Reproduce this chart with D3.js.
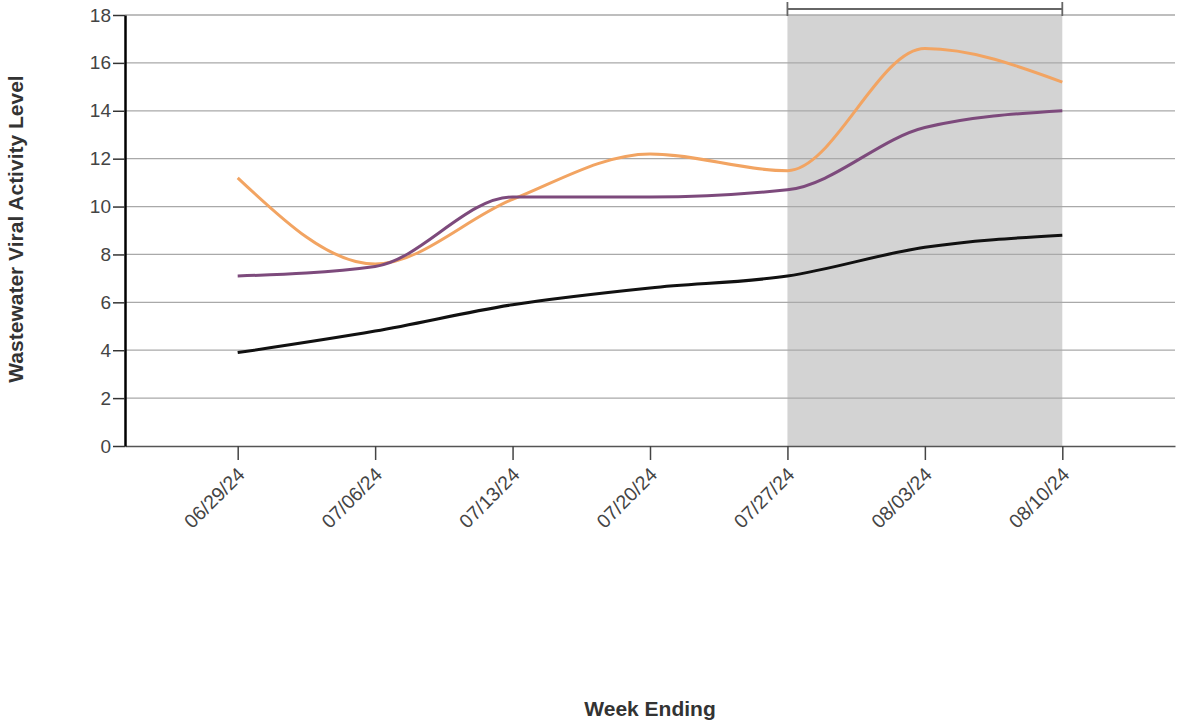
<!DOCTYPE html>
<html>
<head>
<meta charset="utf-8">
<script src="https://cdn.jsdelivr.net/npm/d3@7"></script>
<style>
  body { margin: 0; background: #fff; font-family: "Liberation Sans", Arial, sans-serif; }
</style>
</head>
<body>
<div class="canvas"></div>
<script>
// data
const weeks = ['06/29/24', '07/06/24', '07/13/24', '07/20/24', '07/27/24', '08/03/24', '08/10/24'];
const orangeVals = [11.2, 7.6, 10.3, 12.2, 11.5, 16.6, 15.2];
const purpleVals = [7.1, 7.5, 10.4, 10.4, 10.7, 13.3, 14.0];
const blackVals = [3.9, 4.8, 5.9, 6.6, 7.1, 8.3, 8.8];
const yTicks = [0, 2, 4, 6, 8, 10, 12, 14, 16, 18];
const shadeStart = '07/27/24';
const shadeEnd = '08/10/24';

const width = 1178, height = 721;
const margin = {top: 15, right: 3, bottom: 275, left: 125};
const graphWidth = width - margin.left - margin.right;
const graphHeight = height - margin.top - margin.bottom;

const svg = d3.select('.canvas')
    .append('svg')
        .attr('width', width)
        .attr('height', height);

const graph = svg.append('g')
    .attr('transform', `translate(${margin.left},${margin.top})`);

// scales
const x = d3.scalePoint()
    .domain(weeks)
    .range([0, graphWidth])
    .padding(0.82);

const y = d3.scaleLinear()
    .domain([0, 18])
    .range([graphHeight, 0]);

// shaded recent period
graph.append('rect')
    .attr('x', x(shadeStart))
    .attr('y', y(18))
    .attr('width', x(shadeEnd) - x(shadeStart))
    .attr('height', y(0) - y(18))
    .attr('fill', '#d3d3d3');

// gridlines
graph.selectAll('line.grid').data(yTicks.filter(d => d > 0))
    .enter().append('line')
        .attr('class', 'grid')
        .attr('x1', 0)
        .attr('x2', graphWidth)
        .attr('y1', d => y(d))
        .attr('y2', d => y(d))
        .attr('stroke', '#a9a9a9')
        .attr('stroke-width', 1.3);

// bracket above shaded area
const bracket = graph.append('g').attr('stroke', '#666').attr('stroke-width', 1.8);
bracket.append('line')
    .attr('x1', x(shadeStart)).attr('x2', x(shadeEnd))
    .attr('y1', -6).attr('y2', -6);
bracket.selectAll('line.end').data([shadeStart, shadeEnd])
    .enter().append('line')
        .attr('class', 'end')
        .attr('x1', d => x(d)).attr('x2', d => x(d))
        .attr('y1', -13).attr('y2', 1);

// x axis
const xAxis = graph.append('g')
    .attr('transform', `translate(0,${graphHeight})`)
    .call(d3.axisBottom(x).tickSizeInner(14).tickSizeOuter(0).tickPadding(3));
xAxis.select('.domain').attr('stroke', '#555').attr('stroke-width', 1.5);
xAxis.selectAll('.tick line').attr('stroke', '#444').attr('stroke-width', 1.5);
xAxis.selectAll('.tick text')
    .attr('font-size', 19.5)
    .attr('font-family', '"Liberation Sans", Arial, sans-serif')
    .attr('fill', '#444')
    .attr('text-anchor', 'end')
    .attr('x', 0)
    .attr('y', 0)
    .attr('dy', '0.35em')
    .attr('transform', 'translate(3,25) rotate(-45)');

// y axis
const yAxis = graph.append('g')
    .call(d3.axisLeft(y).tickValues(yTicks).tickSizeInner(12).tickSizeOuter(0).tickPadding(2));
yAxis.select('.domain').attr('stroke', '#000').attr('stroke-width', 2.5);
yAxis.selectAll('.tick line').attr('stroke', '#333').attr('stroke-width', 1.5);
yAxis.selectAll('.tick text')
    .attr('font-size', 19)
    .attr('font-family', '"Liberation Sans", Arial, sans-serif')
    .attr('fill', '#444');

// lines
const line = d3.line()
    .x((d, i) => x(weeks[i]))
    .y(d => y(d))
    .curve(d3.curveMonotoneX);

const series = [
    {vals: orangeVals, color: '#f2a462'},
    {vals: purpleVals, color: '#7d4a7c'},
    {vals: blackVals, color: '#111111'}
];

graph.selectAll('path.series').data(series)
    .enter().append('path')
        .attr('class', 'series')
        .attr('d', d => line(d.vals))
        .attr('fill', 'none')
        .attr('stroke', d => d.color)
        .attr('stroke-width', 3);

// axis titles
svg.append('text')
    .attr('x', 650)
    .attr('y', 716)
    .attr('text-anchor', 'middle')
    .attr('font-size', 21)
    .attr('font-weight', 'bold')
    .attr('fill', '#333')
    .text('Week Ending');

svg.append('text')
    .attr('transform', 'translate(23,229) rotate(-90)')
    .attr('text-anchor', 'middle')
    .attr('font-size', 21)
    .attr('font-weight', 'bold')
    .attr('fill', '#333')
    .text('Wastewater Viral Activity Level');
</script>
</body>
</html>
